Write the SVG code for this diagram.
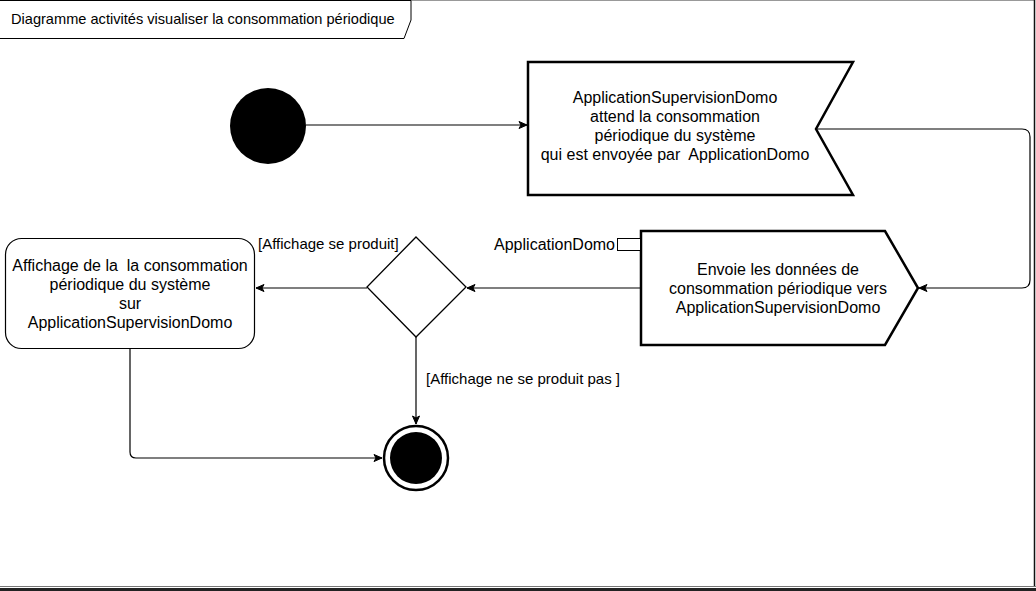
<svg xmlns="http://www.w3.org/2000/svg" width="1036" height="591" viewBox="0 0 1036 591">
  <defs>
    <marker id="arrow" markerWidth="10" markerHeight="10" refX="9" refY="5" orient="auto" markerUnits="userSpaceOnUse">
      <path d="M1,1.5 L9,5 L1,8.5 L3,5 Z" fill="#000" stroke="#000" stroke-width="1"/>
    </marker>
  </defs>
  <style>
    text { font-family: "Liberation Sans", Arial, sans-serif; fill: #000; }
    .node { font-size: 16px; text-anchor: middle; }
    .lbl { font-size: 15px; }
    .title { font-size: 14.6px; }
    .edge { fill: none; stroke: #000; stroke-width: 1.2; }
    .signal { fill: #fff; stroke: #000; stroke-width: 2.5; }
  </style>

  <rect width="1036" height="591" fill="#fff"/>

  <!-- frame of the activity diagram -->
  <g id="frame">
    <line x1="0" y1="0.5" x2="1034" y2="0.5" stroke="#999" stroke-width="1"/>
    <line x1="1034.5" y1="0" x2="1034.5" y2="587" stroke="#111" stroke-width="1.5"/>
    <line x1="0" y1="586.5" x2="1036" y2="586.5" stroke="#777" stroke-width="1.2"/>
    <line x1="0" y1="589.5" x2="1036" y2="589.5" stroke="#222" stroke-width="3"/>
    <path d="M0,0.5 L411,0.5 L411,20 L404,38.5 L0,38.5" fill="#fff" stroke="#000" stroke-width="1"/>
    <text class="title" x="11" y="24">Diagramme activités visualiser la consommation périodique</text>
  </g>

  <!-- connectors -->
  <g id="connectors">
    <path class="edge" d="M306,125 L527,125" marker-end="url(#arrow)"/>
    <path class="edge" d="M816,129 L1022,129 Q1030,129 1030,137 L1030,280 Q1030,288 1022,288 L919,288" marker-end="url(#arrow)"/>
    <path class="edge" d="M641,288 L467,288" marker-end="url(#arrow)"/>
    <path class="edge" d="M367,288 L256,288" marker-end="url(#arrow)"/>
    <path class="edge" d="M416,337 L416,424" marker-end="url(#arrow)"/>
    <path class="edge" d="M130,348 L130,452 Q130,458 136,458 L382,458" marker-end="url(#arrow)"/>
    <text class="lbl" x="258" y="249">[Affichage se produit]</text>
    <text class="lbl" x="426" y="384">[Affichage ne se produit pas ]</text>
  </g>

  <!-- initial node -->
  <g id="start">
    <circle cx="268" cy="126" r="38" fill="#000"/>
  </g>

  <!-- accept event: waiting for the periodic consumption -->
  <g id="accept-consumption">
    <path class="signal" d="M528,62 L853,62 L816,129 L853,195 L528,195 Z"/>
    <text class="node" x="675" y="103">ApplicationSupervisionDomo</text>
    <text class="node" x="675" y="122">attend la consommation</text>
    <text class="node" x="675" y="141">périodique du système</text>
    <text class="node" x="675" y="160" xml:space="preserve">qui est envoyée par  ApplicationDomo</text>
  </g>

  <!-- send signal: ApplicationDomo sends the data -->
  <g id="send-data">
    <path class="signal" d="M641,231 L885,231 L918,288 L885,345 L641,345 Z"/>
    <rect x="617.5" y="238.5" width="23" height="12" fill="#fff" stroke="#000" stroke-width="1"/>
    <text class="node" x="615" y="250" style="text-anchor:end">ApplicationDomo</text>
    <text class="node" x="778" y="275">Envoie les données de</text>
    <text class="node" x="778" y="294">consommation périodique vers</text>
    <text class="node" x="778" y="313">ApplicationSupervisionDomo</text>
  </g>

  <!-- decision -->
  <g id="decision">
    <path d="M416,237 L466,287 L416,337 L367,287 Z" fill="#fff" stroke="#000" stroke-width="1.3"/>
  </g>

  <!-- display action -->
  <g id="display-consumption">
    <rect x="5.5" y="238.5" width="249" height="110" rx="16" ry="16" fill="#fff" stroke="#000" stroke-width="1.2"/>
    <text class="node" x="130" y="271" xml:space="preserve">Affichage de la  la consommation</text>
    <text class="node" x="130" y="290">périodique du système</text>
    <text class="node" x="130" y="309">sur</text>
    <text class="node" x="130" y="328">ApplicationSupervisionDomo</text>
  </g>

  <!-- final node -->
  <g id="end">
    <circle cx="416" cy="458" r="32" fill="#fff" stroke="#000" stroke-width="2.5"/>
    <circle cx="416" cy="458" r="26" fill="#000"/>
  </g>
</svg>
